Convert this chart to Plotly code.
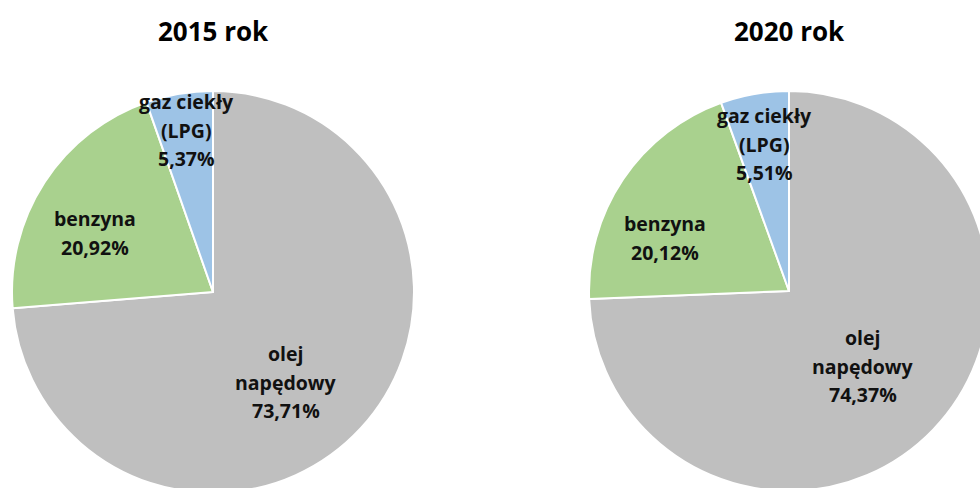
import plotly.graph_objects as go

# ---- data ----
categories = ["olej napędowy", "benzyna", "gaz ciekły (LPG)"]
label_lines = [["olej", "napędowy"], ["benzyna"], ["gaz ciekły", "(LPG)"]]
values_2015 = [73.71, 20.92, 5.37]
values_2020 = [74.37, 20.12, 5.51]
titles = ["2015 rok", "2020 rok"]
colors = ["#BFBFBF", "#A9D18E", "#9DC3E6"]

W, H = 1000, 500
FONT = "Open Sans"
LINE_H = 28.5

def px(x, y):
    return x / W, (H - y) / H

fig = go.Figure()

# pie geometry (pixel centre & radius) and label block centres
pies = [
    dict(vals=values_2015, cx=213, cy=292, r=201,
         label_pos=[(286, 382), (95, 233), (186, 130)]),
    dict(vals=values_2020, cx=789, cy=291, r=200,
         label_pos=[(863, 366), (665, 238), (764, 144)]),
]

annotations = []
for i, p in enumerate(pies):
    x0, y1 = px(p["cx"] - p["r"], p["cy"] - p["r"])
    x1, y0 = px(p["cx"] + p["r"], p["cy"] + p["r"])
    fig.add_trace(go.Pie(
        labels=categories, values=p["vals"], sort=False,
        direction="clockwise", rotation=0,
        marker=dict(colors=colors, line=dict(color="white", width=2)),
        textinfo="none", hoverinfo="label+percent", showlegend=False,
        domain=dict(x=[x0, x1], y=[y0, y1]),
    ))
    for lines, v, (lx, ly) in zip(label_lines, p["vals"], p["label_pos"]):
        all_lines = lines + [f"{v:.2f}".replace(".", ",") + "%"]
        n = len(all_lines)
        for k, line in enumerate(all_lines):
            yy = ly + (k - (n - 1) / 2) * LINE_H
            ax, ay = px(lx, yy)
            annotations.append(dict(
                x=ax, y=ay, xref="paper", yref="paper", showarrow=False,
                text="<b>" + line + "</b>",
                font=dict(family=FONT, size=19.5, color="#111111"),
                xanchor="center", yanchor="middle", align="center",
            ))
    tx, ty = px(p["cx"], 31)
    annotations.append(dict(
        x=tx, y=ty, xref="paper", yref="paper", showarrow=False,
        text="<b>" + titles[i] + "</b>",
        font=dict(family=FONT, size=26, color="#000000"),
        xanchor="center", yanchor="middle",
    ))

fig.update_layout(
    width=W, height=H, autosize=False,
    margin=dict(l=0, r=0, t=0, b=0),
    paper_bgcolor="white", plot_bgcolor="white",
    annotations=annotations,
    font=dict(family=FONT),
)

fig.write_html(
    "out.html",
    config={"displayModeBar": False},
    post_script="document.body.style.margin='0';document.body.style.overflow='hidden';"
                "document.documentElement.style.overflow='hidden';",
)
